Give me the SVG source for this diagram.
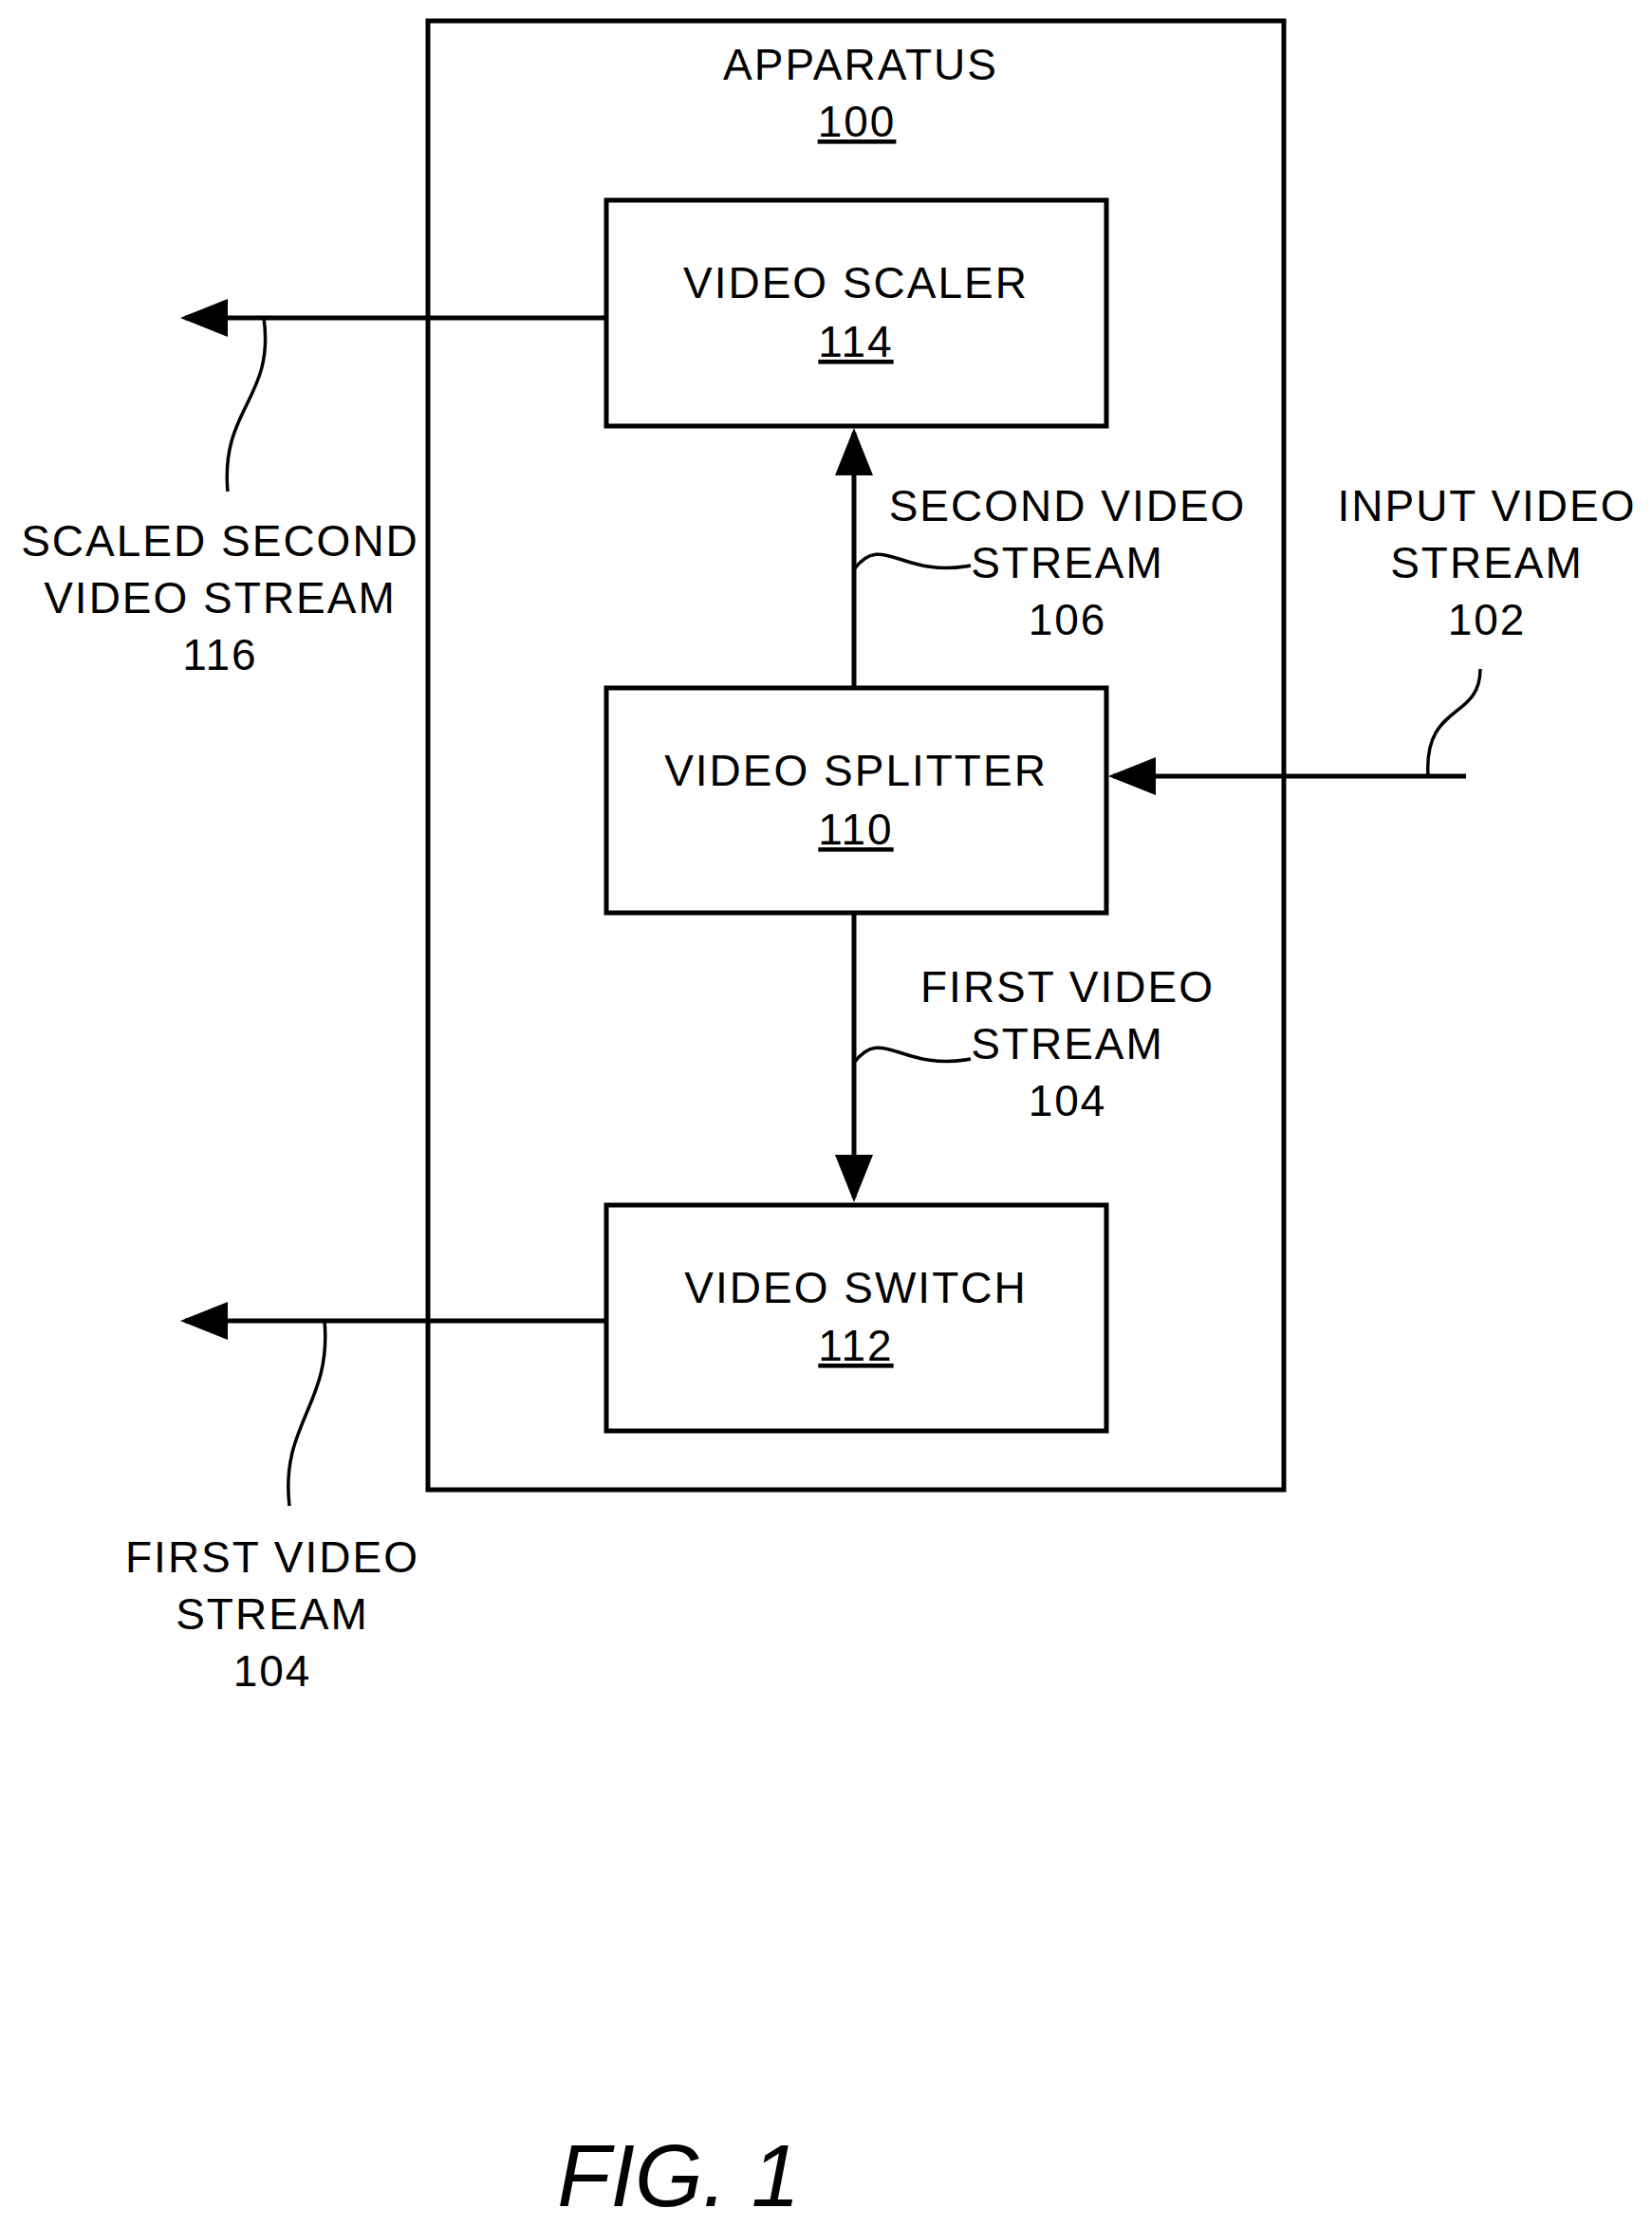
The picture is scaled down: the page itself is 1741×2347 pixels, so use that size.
<svg xmlns="http://www.w3.org/2000/svg" width="1741" height="2347" viewBox="0 0 1741 2347">
<style>
text{font-family:"Liberation Sans",Arial,sans-serif;font-size:46px;letter-spacing:2px;fill:#000;text-anchor:middle}
.box{fill:none;stroke:#000;stroke-width:5}
.ln{fill:none;stroke:#000;stroke-width:5}
.sq{fill:none;stroke:#000;stroke-width:3.5}
</style>
<defs><marker id="ah" markerWidth="10" markerHeight="8" refX="9" refY="4" orient="auto" markerUnits="strokeWidth"><path d="M0,0 L10,4 L0,8 Z" fill="#000"/></marker></defs>
<rect width="1741" height="2347" fill="#fff"/>
<g id="apparatus"><rect class="box" x="451" y="22" width="902" height="1548"/>
<text x="907" y="84">APPARATUS</text><text x="903" y="144" text-decoration="underline">100</text></g>
<g id="scaler"><rect class="box" x="639" y="211" width="527" height="238"/>
<text x="902" y="314">VIDEO SCALER</text><text x="902" y="376" text-decoration="underline">114</text></g>
<g id="splitter"><rect class="box" x="639" y="725" width="527" height="237"/>
<text x="902" y="828">VIDEO SPLITTER</text><text x="902" y="890" text-decoration="underline">110</text></g>
<g id="switch"><rect class="box" x="639" y="1270" width="527" height="238"/>
<text x="902" y="1373">VIDEO SWITCH</text><text x="902" y="1434" text-decoration="underline">112</text></g>
<g id="connectors">
<line class="ln" x1="639" y1="335" x2="195" y2="335" marker-end="url(#ah)"/>
<line class="ln" x1="900" y1="725" x2="900" y2="456" marker-end="url(#ah)"/>
<line class="ln" x1="900" y1="962" x2="900" y2="1262" marker-end="url(#ah)"/>
<line class="ln" x1="1545" y1="818" x2="1173" y2="818" marker-end="url(#ah)"/>
<line class="ln" x1="639" y1="1392" x2="195" y2="1392" marker-end="url(#ah)"/>
<path class="sq" d="M278,335 C290,420 232,430 240,518"/>
<path class="sq" d="M900,600 C930,560 950,610 1023,596"/>
<path class="sq" d="M900,1120 C930,1080 950,1130 1023,1116"/>
<path class="sq" d="M1505,818 C1500,740 1560,760 1560,705"/>
<path class="sq" d="M342,1392 C350,1480 295,1500 305,1587"/>
</g>
<g id="labels">
<text x="232" y="586">SCALED SECOND</text><text x="232" y="646">VIDEO STREAM</text><text x="232" y="706">116</text>
<text x="1125" y="549">SECOND VIDEO</text><text x="1125" y="609">STREAM</text><text x="1125" y="669">106</text>
<text x="1567" y="549">INPUT VIDEO</text><text x="1567" y="609">STREAM</text><text x="1567" y="669">102</text>
<text x="1125" y="1056">FIRST VIDEO</text><text x="1125" y="1116">STREAM</text><text x="1125" y="1176">104</text>
<text x="287" y="1657">FIRST VIDEO</text><text x="287" y="1717">STREAM</text><text x="287" y="1777">104</text>
<text x="715" y="2325" style="font-size:92px;font-style:italic;letter-spacing:0">FIG. 1</text>
</g>
</svg>
